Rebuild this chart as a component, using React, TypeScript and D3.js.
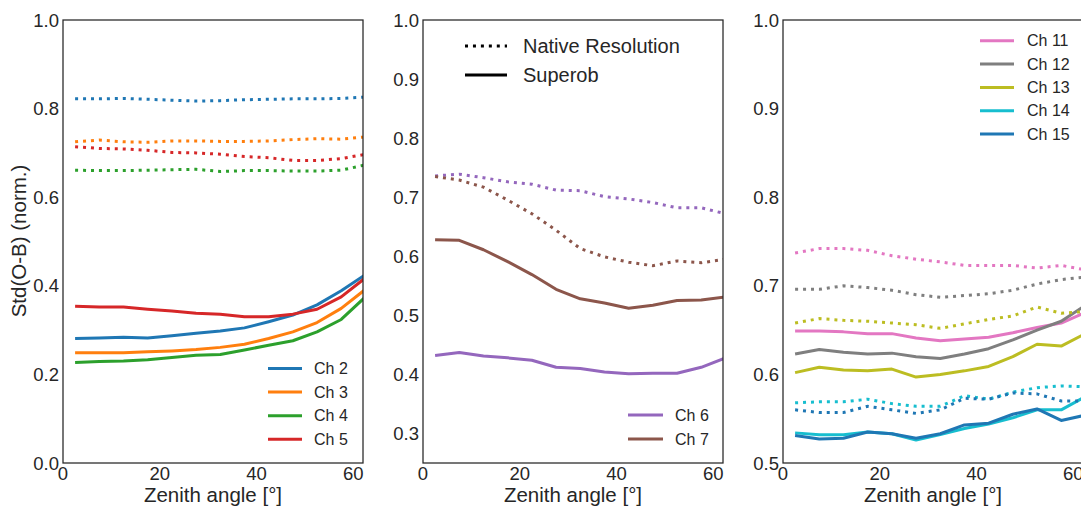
import React from "react";
import * as d3 from "d3";

const angles = [2.5, 7.5, 12.5, 17.5, 22.5, 27.5, 32.5, 37.5, 42.5, 47.5, 52.5, 57.5, 62.5];

// Panel 1
const ch2Native = [0.822, 0.822, 0.823, 0.821, 0.819, 0.817, 0.818, 0.820, 0.821, 0.822, 0.822, 0.823, 0.826];
const ch3Native = [0.725, 0.729, 0.725, 0.724, 0.727, 0.727, 0.726, 0.726, 0.727, 0.730, 0.732, 0.731, 0.736];
const ch4Native = [0.661, 0.660, 0.660, 0.661, 0.662, 0.663, 0.658, 0.660, 0.660, 0.659, 0.659, 0.661, 0.673];
const ch5Native = [0.714, 0.710, 0.709, 0.706, 0.701, 0.700, 0.697, 0.692, 0.689, 0.683, 0.683, 0.687, 0.697];
const ch2Super = [0.281, 0.282, 0.284, 0.282, 0.287, 0.293, 0.298, 0.305, 0.319, 0.334, 0.357, 0.389, 0.425];
const ch3Super = [0.249, 0.249, 0.249, 0.251, 0.253, 0.256, 0.261, 0.268, 0.281, 0.296, 0.317, 0.349, 0.392];
const ch4Super = [0.227, 0.229, 0.230, 0.233, 0.238, 0.243, 0.245, 0.255, 0.266, 0.276, 0.296, 0.324, 0.375];
const ch5Super = [0.354, 0.352, 0.352, 0.347, 0.343, 0.338, 0.336, 0.330, 0.330, 0.336, 0.347, 0.375, 0.418];

// Panel 2
const ch6Native = [0.736, 0.739, 0.733, 0.726, 0.722, 0.712, 0.711, 0.701, 0.697, 0.691, 0.682, 0.682, 0.672];
const ch7Native = [0.735, 0.729, 0.717, 0.695, 0.672, 0.644, 0.613, 0.599, 0.590, 0.584, 0.592, 0.589, 0.595];
const ch6Super = [0.432, 0.437, 0.431, 0.428, 0.424, 0.412, 0.410, 0.404, 0.401, 0.402, 0.402, 0.412, 0.428];
const ch7Super = [0.628, 0.627, 0.611, 0.591, 0.569, 0.544, 0.528, 0.521, 0.512, 0.517, 0.525, 0.526, 0.531];

// Panel 3
const ch11Native = [0.737, 0.742, 0.742, 0.740, 0.734, 0.730, 0.727, 0.723, 0.723, 0.723, 0.720, 0.723, 0.718];
const ch12Native = [0.696, 0.696, 0.700, 0.698, 0.695, 0.690, 0.687, 0.689, 0.691, 0.695, 0.702, 0.707, 0.710];
const ch13Native = [0.658, 0.663, 0.661, 0.660, 0.658, 0.656, 0.652, 0.657, 0.662, 0.666, 0.676, 0.669, 0.671];
const ch14Native = [0.568, 0.569, 0.569, 0.572, 0.567, 0.564, 0.564, 0.576, 0.572, 0.580, 0.585, 0.587, 0.586];
const ch15Native = [0.560, 0.557, 0.557, 0.564, 0.560, 0.556, 0.560, 0.573, 0.572, 0.579, 0.578, 0.570, 0.570];
const ch11Super = [0.649, 0.649, 0.648, 0.646, 0.646, 0.641, 0.638, 0.640, 0.642, 0.647, 0.653, 0.658, 0.670];
const ch12Super = [0.623, 0.628, 0.625, 0.623, 0.624, 0.620, 0.618, 0.623, 0.629, 0.639, 0.650, 0.660, 0.678];
const ch13Super = [0.602, 0.608, 0.605, 0.604, 0.606, 0.597, 0.600, 0.604, 0.609, 0.620, 0.634, 0.632, 0.646];
const ch14Super = [0.534, 0.532, 0.532, 0.535, 0.533, 0.526, 0.532, 0.539, 0.544, 0.551, 0.560, 0.560, 0.575];
const ch15Super = [0.531, 0.527, 0.528, 0.535, 0.533, 0.528, 0.533, 0.543, 0.545, 0.555, 0.561, 0.548, 0.554];

const xTicks = [0, 20, 40, 60];
const yTicks1 = [0.0, 0.2, 0.4, 0.6, 0.8, 1.0];
const yTicks2 = [0.3, 0.4, 0.5, 0.6, 0.7, 0.8, 0.9, 1.0];
const yTicks3 = [0.5, 0.6, 0.7, 0.8, 0.9, 1.0];

const FONT = "'Liberation Sans', Arial, sans-serif";
const TEXT = "#262626";
const LW = 3;

type Series = { name: string; color: string; native: number[]; sup: number[] };

const panels: { left: number; yDomain: [number, number]; yTicks: number[]; series: Series[] }[] = [
  {
    left: 63,
    yDomain: [0, 1],
    yTicks: yTicks1,
    series: [
      { name: "Ch 2", color: "#1f77b4", native: ch2Native, sup: ch2Super },
      { name: "Ch 3", color: "#ff7f0e", native: ch3Native, sup: ch3Super },
      { name: "Ch 4", color: "#2ca02c", native: ch4Native, sup: ch4Super },
      { name: "Ch 5", color: "#d62728", native: ch5Native, sup: ch5Super },
    ],
  },
  {
    left: 423,
    yDomain: [0.25, 1],
    yTicks: yTicks2,
    series: [
      { name: "Ch 6", color: "#9467bd", native: ch6Native, sup: ch6Super },
      { name: "Ch 7", color: "#8c564b", native: ch7Native, sup: ch7Super },
    ],
  },
  {
    left: 783,
    yDomain: [0.5, 1],
    yTicks: yTicks3,
    series: [
      { name: "Ch 11", color: "#e377c2", native: ch11Native, sup: ch11Super },
      { name: "Ch 12", color: "#7f7f7f", native: ch12Native, sup: ch12Super },
      { name: "Ch 13", color: "#bcbd22", native: ch13Native, sup: ch13Super },
      { name: "Ch 14", color: "#17becf", native: ch14Native, sup: ch14Super },
      { name: "Ch 15", color: "#1f77b4", native: ch15Native, sup: ch15Super },
    ],
  },
];

const TOP = 20;
const BOTTOM = 463;
const PW = 300;

export default function App() {
  const fmt = d3.format(".1f");
  return (
    <svg
      width={1081}
      height={506}
      style={{ position: "absolute", left: 0, top: 0, display: "block", background: "#fff" }}
      fontFamily={FONT}
    >
      <defs>
        {panels.map((p, i) => (
          <clipPath id={`clip${i}`} key={i}>
            <rect x={p.left} y={TOP} width={PW} height={BOTTOM - TOP} />
          </clipPath>
        ))}
      </defs>
      {panels.map((p, i) => {
        const x = d3.scaleLinear().domain([0, 62]).range([p.left, p.left + PW]);
        const y = d3.scaleLinear().domain(p.yDomain).range([BOTTOM, TOP]);
        const line = d3
          .line<number>()
          .x((_, j) => x(angles[j]))
          .y((d) => y(d))
          .curve(d3.curveLinear);
        return (
          <g key={i}>
            <g clipPath={`url(#clip${i})`}>
              {p.series.map((s) => (
                <g key={s.name}>
                  <path
                    d={line(s.native) || ""}
                    fill="none"
                    stroke={s.color}
                    strokeWidth={LW}
                    strokeDasharray="3 4.95"
                  />
                  <path d={line(s.sup) || ""} fill="none" stroke={s.color} strokeWidth={LW} strokeLinejoin="round" />
                </g>
              ))}
            </g>
            <rect
              x={p.left}
              y={TOP}
              width={PW}
              height={BOTTOM - TOP}
              fill="none"
              stroke={TEXT}
              strokeWidth={1.25}
            />
            {p.yTicks.map((t) => (
              <text
                key={t}
                x={p.left - 4}
                y={y(t)}
                textAnchor="end"
                dominantBaseline="central"
                fontSize={18.5}
                fill={TEXT}
              >
                {fmt(t)}
              </text>
            ))}
            {xTicks.map((t) => (
              <text key={t} x={x(t)} y={480} textAnchor="middle" fontSize={18.5} fill={TEXT}>
                {t}
              </text>
            ))}
            <text x={p.left + 150} y={502} textAnchor="middle" fontSize={20.5} fill={TEXT}>
              Zenith angle [°]
            </text>
          </g>
        );
      })}
      <text
        transform="translate(26,241) rotate(-90)"
        textAnchor="middle"
        fontSize={20.5}
        fill={TEXT}
      >
        Std(O-B) (norm.)
      </text>

      {/* Panel 1 legend */}
      {panels[0].series.map((s, k) => (
        <g key={s.name}>
          <line x1={268} x2={302} y1={368.5 + k * 23.6} y2={368.5 + k * 23.6} stroke={s.color} strokeWidth={LW} />
          <text x={314} y={368.5 + k * 23.6} dominantBaseline="central" fontSize={16} fill={TEXT}>
            {s.name}
          </text>
        </g>
      ))}
      {/* Panel 2 legend */}
      {panels[1].series.map((s, k) => (
        <g key={s.name}>
          <line x1={628} x2={663} y1={415 + k * 24} y2={415 + k * 24} stroke={s.color} strokeWidth={LW} />
          <text x={675} y={415 + k * 24} dominantBaseline="central" fontSize={16} fill={TEXT}>
            {s.name}
          </text>
        </g>
      ))}
      {/* Panel 3 legend */}
      {panels[2].series.map((s, k) => (
        <g key={s.name}>
          <line x1={980} x2={1014} y1={40.7 + k * 23.35} y2={40.7 + k * 23.35} stroke={s.color} strokeWidth={LW} />
          <text x={1027} y={40.7 + k * 23.35} dominantBaseline="central" fontSize={16} fill={TEXT}>
            {s.name}
          </text>
        </g>
      ))}
      {/* Style legend */}
      <line x1={465} x2={507} y1={46} y2={46} stroke="#000" strokeWidth={LW} strokeDasharray="3 4.95" />
      <text x={523} y={46} dominantBaseline="central" fontSize={20} fill={TEXT}>
        Native Resolution
      </text>
      <line x1={465} x2={507} y1={75} y2={75} stroke="#000" strokeWidth={LW} />
      <text x={523} y={75} dominantBaseline="central" fontSize={20} fill={TEXT}>
        Superob
      </text>
    </svg>
  );
}
